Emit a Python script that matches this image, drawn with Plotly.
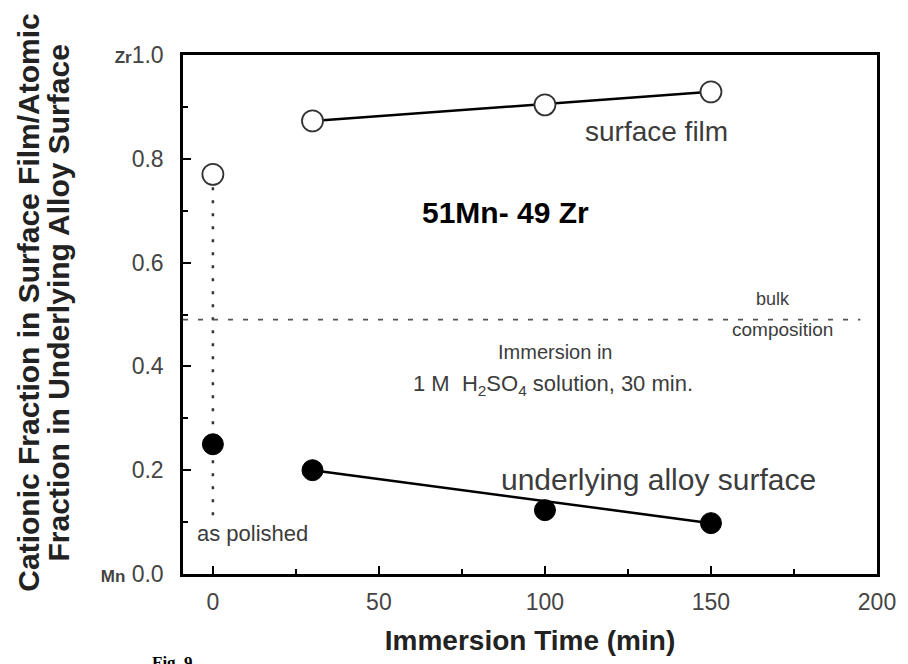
import plotly.graph_objects as go

# Data
times = [0, 30, 100, 150]
surface_film = [0.77, 0.873, 0.904, 0.929]
underlying = [0.25, 0.20, 0.123, 0.098]
bulk_composition = 0.49
x_ticks = [0, 50, 100, 150, 200]
y_ticks = [0.0, 0.2, 0.4, 0.6, 0.8, 1.0]
y_ticktext = ["<b style='font-size:17px'>Mn</b> 0.0", "0.2", "0.4", "0.6", "0.8",
              "<b style='font-size:17px'>Zr</b>1.0"]

FONT = "Liberation Sans, Arial, sans-serif"
GRAY = "#3c3c3c"

fig = go.Figure()

# vertical dotted line at as-polished
fig.add_trace(go.Scatter(x=[times[0], times[0]], y=[surface_film[0], 0.11], mode="lines",
                         line=dict(color="#333", width=2.5, dash="3px,10px"), showlegend=False, hoverinfo="skip"))
# bulk composition dashed line
fig.add_trace(go.Scatter(x=[-9, 195], y=[bulk_composition, bulk_composition], mode="lines",
                         line=dict(color="#555", width=1.8, dash="5px,10px"), showlegend=False, hoverinfo="skip"))

# lines for immersion data
fig.add_trace(go.Scatter(x=[times[1], times[-1]], y=[surface_film[1], surface_film[-1]], mode="lines",
                         line=dict(color="black", width=2.5), showlegend=False))
fig.add_trace(go.Scatter(x=[times[1], times[-1]], y=[underlying[1], underlying[-1]], mode="lines",
                         line=dict(color="black", width=2.5), showlegend=False))

# markers
fig.add_trace(go.Scatter(x=times, y=surface_film, mode="markers",
                         marker=dict(symbol="circle", size=21, color="white", line=dict(color="#333", width=1.8)),
                         showlegend=False))
fig.add_trace(go.Scatter(x=times, y=underlying, mode="markers",
                         marker=dict(symbol="circle", size=21, color="black", line=dict(color="black", width=1)),
                         showlegend=False))

anns = [
    dict(x=133.6, y=0.852, text="surface film", size=28, color=GRAY),
    dict(x=88.2, y=0.696, text="<b>51Mn- 49 Zr</b>", size=30, color="black"),
    dict(x=168.6, y=0.529, text="bulk", size=18, color=GRAY),
    dict(x=171.6, y=0.471, text="composition", size=19, color=GRAY),
    dict(x=103.1, y=0.427, text="Immersion in", size=20, color=GRAY),
    dict(x=102.5, y=0.365, text="1 M  H<sub>2</sub>SO<sub>4</sub> solution, 30 min.", size=22, color=GRAY),
    dict(x=134.2, y=0.183, text="underlying alloy surface", size=30, color=GRAY),
    dict(x=12.0, y=0.079, text="as polished", size=22, color=GRAY),
]
for a in anns:
    fig.add_annotation(x=a["x"], y=a["y"], text=a["text"], showarrow=False,
                       font=dict(family=FONT, size=a["size"], color=a["color"]),
                       xanchor="center", yanchor="middle")

# y-axis title, two lines
ytitle_lines = ["Cationic Fraction in Surface Film/Atomic", "Fraction in Underlying Alloy Surface"]
for xp, line in zip([-0.2232, -0.1788], ytitle_lines):
    fig.add_annotation(xref="paper", yref="paper", x=xp, y=0.523, text="<b>" + line + "</b>",
                       textangle=-90, showarrow=False, xanchor="center", yanchor="middle",
                       font=dict(family=FONT, size=30, color="#222"))

fig.add_annotation(xref="paper", yref="paper", x=-0.047, y=-0.148, text="<b>Fig. 9</b>", showarrow=False,
                   font=dict(family="Liberation Serif, Times New Roman, serif", size=17, color="black"),
                   xanchor="left", yanchor="top")

fig.update_layout(
    width=908, height=664,
    margin=dict(l=183, r=26, t=55, b=89),
    paper_bgcolor="white", plot_bgcolor="white",
    font=dict(family=FONT, color=GRAY),
    xaxis=dict(range=[-9, 200], tickvals=x_ticks, ticks="inside", ticklen=8, tickwidth=2, tickcolor="black",
               minor=dict(dtick=25, ticks="inside", ticklen=5, tickwidth=1.5, tickcolor="black"),
               showline=True, linecolor="black", linewidth=2.5, mirror=True, showgrid=False, zeroline=False,
               tickfont=dict(size=23, color="#444"), ticklabelstandoff=6,
               title=dict(text="<b>Immersion Time (min)</b>", font=dict(size=28, color="#222"), standoff=17)),
    yaxis=dict(range=[0, 1.0], tickvals=y_ticks, ticktext=y_ticktext, ticks="inside", ticklen=8, tickwidth=2,
               tickcolor="black",
               minor=dict(dtick=0.1, ticks="inside", ticklen=5, tickwidth=1.5, tickcolor="black"),
               showline=True, linecolor="black", linewidth=2.5, mirror=True, showgrid=False, zeroline=False,
               tickfont=dict(size=23, color="#444"), ticklabelstandoff=12),
)

fig.write_html("out.html")
